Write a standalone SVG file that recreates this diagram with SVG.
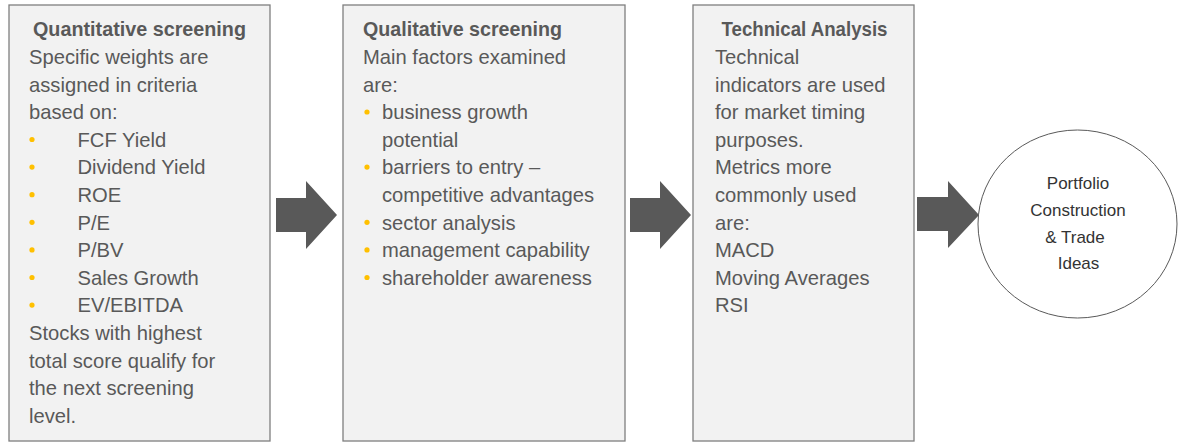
<svg xmlns="http://www.w3.org/2000/svg" width="1178" height="443" viewBox="0 0 1178 443">
<style>
.box{fill:#f2f2f2;stroke:#7f7f7f;stroke-width:1.3}
.t{font-family:"Liberation Sans",Arial,sans-serif;font-size:20.2px;fill:#595959}
.b{font-weight:bold}
.dot{fill:#ffc000}
.arr{fill:#595959}
.c{font-family:"Liberation Sans",Arial,sans-serif;font-size:17px;fill:#333333;text-anchor:middle}
</style>
<rect width="1178" height="443" fill="#ffffff"/>
<g id="node-quantitative">
<rect class="box" x="9" y="5" width="261" height="436"/>
<text class="t b" x="139.5" y="36" text-anchor="middle" textLength="213" lengthAdjust="spacingAndGlyphs">Quantitative screening</text>
<text class="t" x="29" y="64">Specific weights are</text>
<text class="t" x="29" y="91.6">assigned in criteria</text>
<text class="t" x="29" y="119.2">based on:</text>
<circle class="dot" cx="32" cy="139.5" r="2.6"/><text class="t" x="77.5" y="146.8">FCF Yield</text>
<circle class="dot" cx="32" cy="167.1" r="2.6"/><text class="t" x="77.5" y="174.4">Dividend Yield</text>
<circle class="dot" cx="32" cy="194.7" r="2.6"/><text class="t" x="77.5" y="202">ROE</text>
<circle class="dot" cx="32" cy="222.3" r="2.6"/><text class="t" x="77.5" y="229.6">P/E</text>
<circle class="dot" cx="32" cy="249.9" r="2.6"/><text class="t" x="77.5" y="257.2">P/BV</text>
<circle class="dot" cx="32" cy="277.5" r="2.6"/><text class="t" x="77.5" y="284.8">Sales Growth</text>
<circle class="dot" cx="32" cy="305.1" r="2.6"/><text class="t" x="77.5" y="312.4">EV/EBITDA</text>
<text class="t" x="29" y="340">Stocks with highest</text>
<text class="t" x="29" y="367.6">total score qualify for</text>
<text class="t" x="29" y="395.2">the next screening</text>
<text class="t" x="29" y="422.8">level.</text>
</g>
<g id="node-qualitative">
<rect class="box" x="343" y="5" width="282" height="436"/>
<text class="t b" x="363" y="36" textLength="199" lengthAdjust="spacingAndGlyphs">Qualitative screening</text>
<text class="t" x="363" y="64">Main factors examined</text>
<text class="t" x="363" y="91.6">are:</text>
<circle class="dot" cx="367" cy="112" r="2.6"/><text class="t" x="382" y="119.2">business growth</text>
<text class="t" x="382" y="146.8">potential</text>
<circle class="dot" cx="367" cy="167.1" r="2.6"/><text class="t" x="382" y="174.4">barriers to entry –</text>
<text class="t" x="382" y="202">competitive advantages</text>
<circle class="dot" cx="367" cy="222.3" r="2.6"/><text class="t" x="382" y="229.6">sector analysis</text>
<circle class="dot" cx="367" cy="249.9" r="2.6"/><text class="t" x="382" y="257.2">management capability</text>
<circle class="dot" cx="367" cy="277.5" r="2.6"/><text class="t" x="382" y="284.8">shareholder awareness</text>
</g>
<g id="node-technical">
<rect class="box" x="693" y="5" width="221" height="436"/>
<text class="t b" x="804.5" y="36" text-anchor="middle" textLength="166" lengthAdjust="spacingAndGlyphs">Technical Analysis</text>
<text class="t" x="715" y="64">Technical</text>
<text class="t" x="715" y="91.6">indicators are used</text>
<text class="t" x="715" y="119.2">for market timing</text>
<text class="t" x="715" y="146.8">purposes.</text>
<text class="t" x="715" y="174.4">Metrics more</text>
<text class="t" x="715" y="202">commonly used</text>
<text class="t" x="715" y="229.6">are:</text>
<text class="t" x="715" y="257.2">MACD</text>
<text class="t" x="715" y="284.8">Moving Averages</text>
<text class="t" x="715" y="312.4">RSI</text>
</g>
<g id="node-portfolio">
<ellipse cx="1077.5" cy="224" rx="99.5" ry="94" fill="#ffffff" stroke="#595959" stroke-width="1"/>
<text class="c" x="1078" y="189.3">Portfolio</text>
<text class="c" x="1078" y="216">Construction</text>
<text class="c" x="1075" y="242.7">&amp; Trade</text>
<text class="c" x="1078.5" y="269.3">Ideas</text>
</g>
<g id="connectors">
<polygon class="arr" points="276,198 306,198 306,181 337,215 306,249 306,232 276,232"/>
<polygon class="arr" points="630,198 660,198 660,181 691,215 660,249 660,232 630,232"/>
<polygon class="arr" points="917,197 948,197 948,181 979,215 948,248 948,231 917,231"/>
</g>
</svg>
